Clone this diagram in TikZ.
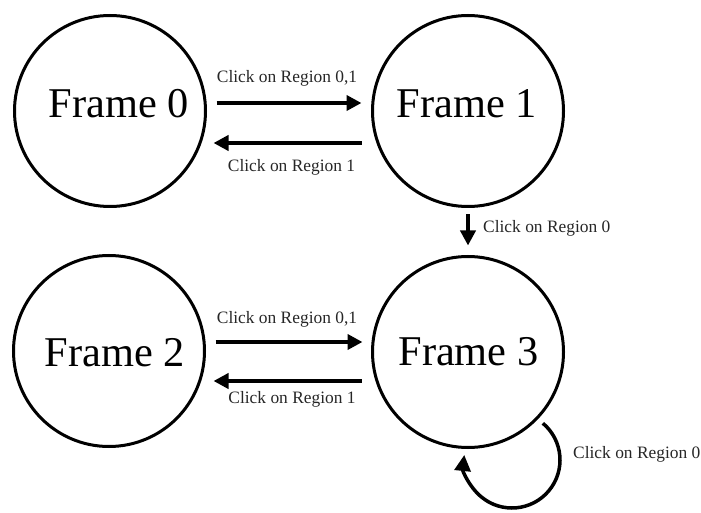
\documentclass[tikz,border=0pt]{standalone}
\usepackage{fontspec}
\setmainfont{Liberation Serif}
\usetikzlibrary{arrows.meta}
\begin{document}
\begin{tikzpicture}[x=1pt,y=1pt,
  state/.style={draw, circle, line width=3pt, minimum size=191pt, inner sep=0pt},
  big/.style={font=\fontsize{42.4}{46}\selectfont, inner sep=0pt},
  lbl/.style={font=\fontsize{17.4}{20}\selectfont, inner sep=0pt, text=black!85},
  arr/.style={line width=4pt, -{Triangle[length=15pt,width=15pt]}},
  looparr/.style={line width=3.5pt, -{Triangle[length=16pt,width=16pt]}}]
\useasboundingbox (0,0) rectangle (701,512);
% states
\node[state] (f0) at (110,401) {};
\node[state] (f1) at (468,401) {};
\node[state] (f2) at (109,161) {};
\node[state] (f3) at (468,160) {};
\node[big] (t0) at (119,408) {Frame 0};
\node[big] (t1) at (467,408) {Frame 1};
\node[big] (t2) at (115,159) {Frame 2};
\node[big] (t3) at (468.5,160.5) {Frame 3};
% top pair
\draw[arr] ([xshift=9.5pt,yshift=8pt]f0.east) -- ([xshift=-9.5pt,yshift=8pt]f1.west);
\draw[arr] ([xshift=-9.5pt,yshift=-32pt]f1.west) -- ([xshift=6.5pt,yshift=-32pt]f0.east);
\node[lbl, anchor=base] (l01) at (287,429) {Click on Region 0,1};
\node[lbl, anchor=base] (l10) at (291.5,340) {Click on Region 1};
% vertical
\draw[arr] ([yshift=-6.5pt]f1.south) -- ([yshift=9.5pt]f3.north);
\node[lbl, anchor=base west] (l13) at (483,279) {Click on Region 0};
% bottom pair
\draw[arr] ([xshift=9.5pt,yshift=9pt]f2.east) -- ([xshift=-8.5pt,yshift=10pt]f3.west);
\draw[arr] ([xshift=-9.5pt,yshift=-29pt]f3.west) -- ([xshift=7.5pt,yshift=-30pt]f2.east);
\node[lbl, anchor=base] (l23) at (287,189) {Click on Region 0,1};
\node[lbl, anchor=base] (l32) at (292,109) {Click on Region 1};
% self loop
\coordinate (ls) at ([shift={(74.85,-71.23)}]f3.center);
\draw[looparr] (ls) arc[start angle=50, end angle=-186, radius=48];
\node[lbl, anchor=base west] (l33) at (573,54) {Click on Region 0};
\end{tikzpicture}
\end{document}
